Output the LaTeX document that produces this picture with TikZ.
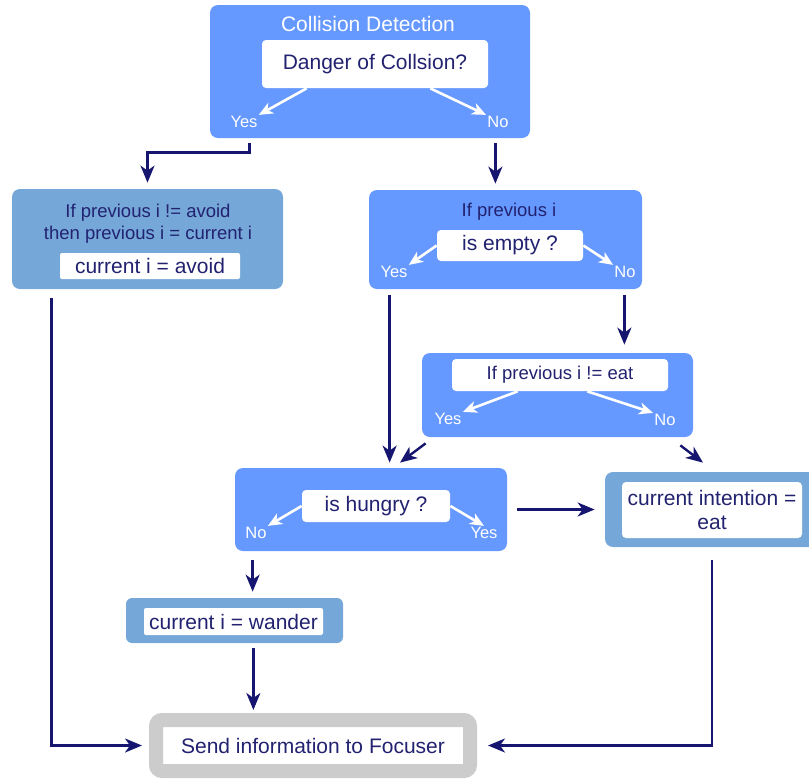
\documentclass[tikz,border=0pt]{standalone}
\usepackage{fontspec}
\setmainfont{Liberation Sans}
\usetikzlibrary{arrows.meta,calc}

\definecolor{decblue}{RGB}{102,153,255}
\definecolor{actblue}{RGB}{117,167,216}
\definecolor{inknavy}{RGB}{34,34,112}
\definecolor{flownavy}{RGB}{22,22,112}
\definecolor{sendgray}{RGB}{204,204,204}

\tikzset{every picture/.style={line width=0.75pt}}
\tikzset{
  decbox/.style={fill=decblue, rounded corners=8pt, inner sep=0pt},
  actbox/.style={fill=actblue, rounded corners=8pt, inner sep=0pt},
  askbox/.style={fill=white, rounded corners=4pt, inner sep=0pt, text=inknavy, font=\fontsize{21}{24}\selectfont},
  note/.style={text=inknavy, font=\fontsize{18.5}{22}\selectfont, align=center, inner sep=0pt},
  answer/.style={text=white, font=\fontsize{16.5}{18}\selectfont, inner sep=1pt},
  flow/.style={draw=flownavy, line width=2.4pt, -{Stealth[length=17pt,width=14pt,inset=5pt]}},
  pick/.style={draw=white, line width=2.6pt, -{Stealth[length=14pt,width=12pt,inset=4pt]}},
}

\begin{document}
\begin{tikzpicture}[x=1pt,y=1pt,yscale=-1]
\useasboundingbox (0,0) rectangle (809,780);

%Shape: Collision box
\node[decbox, minimum width=320pt, minimum height=133pt] (collide) at (370,71.5) {};
% Text Node
\node[text=white, font=\fontsize{21}{24}\selectfont, inner sep=0pt] (collideTitle) at (368,24) {Collision Detection};
\node[askbox, minimum width=226pt, minimum height=48pt] (danger) at (375,64) {Danger of Collsion?};
\node[answer] (dangerYes) at (244,122) {Yes};
\node[answer] (dangerNo) at (498,122) {No};
\draw[pick] ($(danger.south west)+(45,0)$) -- (dangerYes.north east);
\draw[pick] ($(danger.south east)+(-58,0)$) -- (dangerNo.north west);

%Shape: Avoid box
\node[actbox, minimum width=271pt, minimum height=100pt] (avoid) at (147.5,239) {};
% Text Node
\node[note] (avoidNote) at (148,224) {If previous i != avoid\\then previous i = current i};
\node[askbox, minimum width=180pt, minimum height=26pt, rounded corners=2pt] (avoidSet) at (150,266) {current i = avoid};

%Shape: Empty box
\node[decbox, minimum width=273pt, minimum height=99pt] (empty) at (505.5,239.5) {};
% Text Node
\node[note] (emptyNote) at (509,212) {If previous i};
\node[askbox, minimum width=146pt, minimum height=31pt] (emptyAsk) at (510,245.5) {is empty ?};
\node[answer] (emptyYes) at (394,272) {Yes};
\node[answer] (emptyNo) at (625,272) {No};
\draw[pick] (emptyAsk.west) -- (emptyYes.north east);
\draw[pick] (emptyAsk.east) -- (emptyNo.north west);

%Shape: Eat box
\node[decbox, minimum width=271pt, minimum height=84pt] (eat) at (557.5,395) {};
\node[askbox, note, minimum width=216pt, minimum height=32pt] (eatAsk) at (560,375) {If previous i != eat};
\node[answer] (eatYes) at (448,419) {Yes};
\node[answer] (eatNo) at (665,420) {No};
\draw[pick] ($(eatAsk.south west)+(66,0)$) -- (eatYes.north east);
\draw[pick] ($(eatAsk.south east)+(-81,0)$) -- (eatNo.north west);

%Shape: Hungry box
\node[decbox, minimum width=272pt, minimum height=83pt] (hungry) at (371,509.5) {};
\node[askbox, minimum width=148pt, minimum height=32pt] (hungryAsk) at (376,506) {is hungry ?};
\node[answer] (hungryNo) at (256,533) {No};
\node[answer] (hungryYes) at (484,533) {Yes};
\draw[pick] (hungryAsk.west) -- (hungryNo.north east);
\draw[pick] (hungryAsk.east) -- (hungryYes.north);

%Shape: Intention box
\node[actbox, minimum width=214pt, minimum height=75pt] (intent) at (712,509.5) {};
\node[askbox, align=center, minimum width=180pt, minimum height=56pt, font=\fontsize{21}{23.5}\selectfont] (intentSet) at (712,510) {current intention =\\eat};

%Shape: Wander box
\node[actbox, minimum width=217pt, minimum height=45pt, rounded corners=6pt] (wander) at (234.5,620.5) {};
\node[askbox, minimum width=179pt, minimum height=27pt, rounded corners=2pt] (wanderSet) at (233.5,621.5) {current i = wander};

%Shape: Send box
\node[draw=sendgray, line width=14pt, outer sep=7pt, fill=white, rounded corners=6pt, minimum width=314pt, minimum height=51pt, text=inknavy, font=\fontsize{21}{24}\selectfont] (send) at (313,745.5) {Send information to Focuser};

% Arrow ends
\coordinate (yesOut) at ($(collide.south west)+(40,5)$);
\coordinate (noOut) at ($(collide.south east)+(-35,5)$);
\coordinate (avoidOut) at ($(avoid.south west)+(40,9)$);
\coordinate (emptyYesOut) at ($(empty.south west)+(21,6)$);
\coordinate (emptyNoOut) at ($(empty.south east)+(-18,6)$);
\coordinate (eatYesOut) at ($(eat.south west)+(4,6)$);
\coordinate (hungryIn) at ($(hungry.north)+(29,-5)$);
\coordinate (eatNoOut) at ($(eat.south east)+(-13,8)$);
\coordinate (intentIn) at ($(intent.north)+(-9,-9)$);
\coordinate (hungryOut) at ($(hungry.south west)+(18,9)$);
\coordinate (wanderOut) at ($(wander.south east)+(-90,5)$);

%Straight Lines
\draw[flow, shorten >=6pt] (yesOut) -- ++(0,9) -| (avoid.north);
\draw[flow, shorten >=6pt] (noOut) -- (noOut |- empty.north);
\draw[flow, shorten >=7pt] (avoidOut) |- (send.west);
\draw[flow, shorten >=5pt] (emptyYesOut) -- (emptyYesOut |- hungry.north);
\draw[flow, shorten >=8pt] (emptyNoOut) -- (emptyNoOut |- eat.north);
\draw[flow] (eatYesOut) -- (hungryIn);
\draw[flow] (eatNoOut) -- (intentIn);
\draw[flow, shorten <=10pt, shorten >=10pt] (hungry.east) -- (intent.west);
\draw[flow, shorten >=6pt] (hungryOut) -- (hungryOut |- wander.north);
\draw[flow, shorten >=3pt] (wanderOut) -- (wanderOut |- send.north);
\draw[flow, shorten <=13pt, shorten >=11pt] (intent.south) |- (send.east);

\end{tikzpicture}
\end{document}
